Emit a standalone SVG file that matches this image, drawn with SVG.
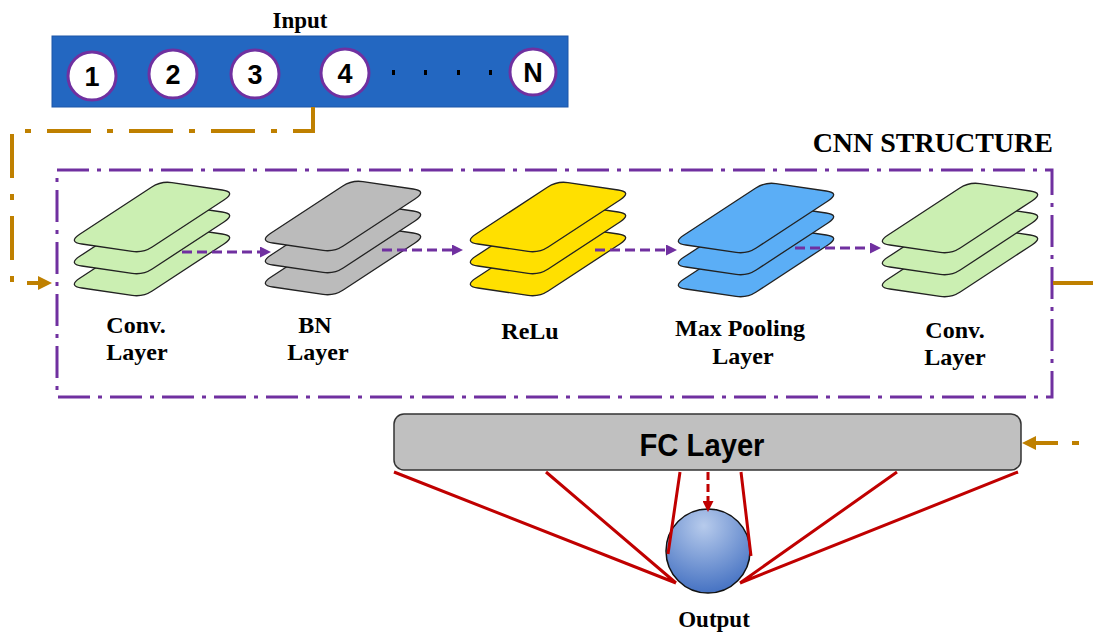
<svg xmlns="http://www.w3.org/2000/svg" width="1093" height="632" viewBox="0 0 1093 632">
<style>
.lbl{font-family:"Liberation Serif","Times New Roman",serif;font-weight:bold;font-size:24px;fill:#000;text-anchor:middle}
.num{font-family:"Liberation Sans",Arial,sans-serif;font-weight:bold;font-size:27px;fill:#000;text-anchor:middle}
.inc{fill:#fff;stroke:#7030A0;stroke-width:3}
.pl{stroke:#222;stroke-width:1.3}
.green{fill:#CBEFB2}
.gray{fill:#BBBBBB}
.yellow{fill:#FFE000}
.blue{fill:#5BAEF6}
.orange{fill:none;stroke:#BF8000;stroke-width:4}
.pdash{fill:none;stroke:#7030A0;stroke-width:3;stroke-dasharray:10 5}
.red{stroke:#C00000;stroke-width:3;fill:none}
</style>
<defs>
<path id="plate" d="M13.9,2 L64.1,9.4 Q75,11 84.2,5 L156.3,-42.3 Q168,-50 154.2,-52 L103.9,-59.4 Q93,-61 83.8,-55 L11.7,-7.7 Q0,0 13.9,2 Z"/>
<marker id="ao" markerWidth="14" markerHeight="14" refX="6" refY="7" orient="auto" markerUnits="userSpaceOnUse"><path d="M0,0 L14,7 L0,14 Z" fill="#BF8000"/></marker>
<marker id="ap" markerWidth="11" markerHeight="11" refX="4" refY="5.5" orient="auto" markerUnits="userSpaceOnUse"><path d="M0,0 L11,5.5 L0,11 Z" fill="#7030A0"/></marker>
<marker id="ar" markerWidth="11" markerHeight="11" refX="4" refY="5.5" orient="auto" markerUnits="userSpaceOnUse"><path d="M0,0 L11,5.5 L0,11 Z" fill="#C00000"/></marker>
<radialGradient id="og" cx="0.45" cy="0.2" r="0.85">
<stop offset="0" stop-color="#B7CBEC"/>
<stop offset="1" stop-color="#3F6DC0"/>
</radialGradient>
</defs>

<g id="input">
<text x="300" y="28" class="lbl" style="font-size:23px">Input</text>
<rect x="52" y="36" width="516" height="71" fill="#2367C1" stroke="#1D56A8" stroke-width="1"/>
<circle cx="92" cy="76" r="24" class="inc"/><text x="92" y="86" class="num">1</text>
<circle cx="173" cy="74" r="24" class="inc"/><text x="173" y="84" class="num">2</text>
<circle cx="255" cy="74" r="24" class="inc"/><text x="255" y="84" class="num">3</text>
<circle cx="345" cy="73" r="24" class="inc"/><text x="345" y="83" class="num">4</text>
<circle cx="533" cy="72" r="23" class="inc"/><text x="533" y="82" class="num">N</text>
<g fill="#000"><rect x="392" y="70" width="3" height="5"/><rect x="424" y="70" width="3" height="5"/><rect x="457" y="70" width="3" height="5"/><rect x="489" y="70" width="3" height="5"/></g>
</g>

<g id="cnn-structure">
<text x="1053" y="152" class="lbl" style="font-size:28px;text-anchor:end">CNN STRUCTURE</text>
<rect x="57" y="170" width="995" height="227" fill="none" stroke="#7030A0" stroke-width="3" stroke-dasharray="32 8 4 8"/>
</g>

<g id="conv1">
<use href="#plate" x="68" y="286" class="pl green"/>
<use href="#plate" x="68" y="264" class="pl green"/>
<use href="#plate" x="68" y="242" class="pl green"/>
<text x="136" y="333" class="lbl">Conv.</text>
<text x="137" y="360" class="lbl">Layer</text>
</g>
<g id="bn">
<use href="#plate" x="259" y="285" class="pl gray"/>
<use href="#plate" x="259" y="263" class="pl gray"/>
<use href="#plate" x="259" y="241" class="pl gray"/>
<text x="315" y="333" class="lbl">BN</text>
<text x="318" y="360" class="lbl">Layer</text>
</g>
<g id="relu">
<use href="#plate" x="464" y="286" class="pl yellow"/>
<use href="#plate" x="464" y="264" class="pl yellow"/>
<use href="#plate" x="464" y="242" class="pl yellow"/>
<text x="530" y="339" class="lbl">ReLu</text>
</g>
<g id="maxpool">
<use href="#plate" x="672" y="287" class="pl blue"/>
<use href="#plate" x="672" y="265" class="pl blue"/>
<use href="#plate" x="672" y="243" class="pl blue"/>
<text x="740" y="336" class="lbl">Max Pooling</text>
<text x="743" y="364" class="lbl">Layer</text>
</g>
<g id="conv2">
<use href="#plate" x="876" y="287" class="pl green"/>
<use href="#plate" x="876" y="265" class="pl green"/>
<use href="#plate" x="876" y="243" class="pl green"/>
<text x="955" y="338" class="lbl">Conv.</text>
<text x="955" y="365" class="lbl">Layer</text>
</g>

<g id="fc">
<rect x="394" y="414" width="627" height="56" rx="10" fill="#C0C0C0" stroke="#333" stroke-width="1.5"/>
<text x="702" y="456" textLength="125" lengthAdjust="spacingAndGlyphs" style="font-family:'Liberation Sans',Arial,sans-serif;font-weight:bold;font-size:31px;text-anchor:middle">FC Layer</text>
</g>

<g id="output">
<ellipse cx="708" cy="551" rx="42" ry="42" fill="url(#og)" stroke="#111" stroke-width="1.5"/>
<text x="714" y="627" class="lbl" style="font-size:23px">Output</text>
</g>

<g id="connectors">
<path d="M313,107 V131 H12 V283 H44" class="orange" stroke-dasharray="44 16 6 16" marker-end="url(#ao)"/>
<path d="M1053,283 H1093" class="orange"/>
<path d="M1072,443 H1079" class="orange"/>
<path d="M1058,443 H1030" class="orange" marker-end="url(#ao)"/>
<path d="M182,252 H264" class="pdash" marker-end="url(#ap)"/>
<path d="M382,250 H456" class="pdash" marker-end="url(#ap)"/>
<path d="M595,250 H670" class="pdash" marker-end="url(#ap)"/>
<path d="M795,248 H874" class="pdash" marker-end="url(#ap)"/>
<path d="M394,472 L676,583 M546,472 L676,583 M680,472 L668,554 M741,472 L751,556 M897,472 L740,583 M1018,472 L740,583" class="red"/>
<path d="M708,472 V505" class="red" stroke-dasharray="8 4" marker-end="url(#ar)"/>
</g>
</svg>
